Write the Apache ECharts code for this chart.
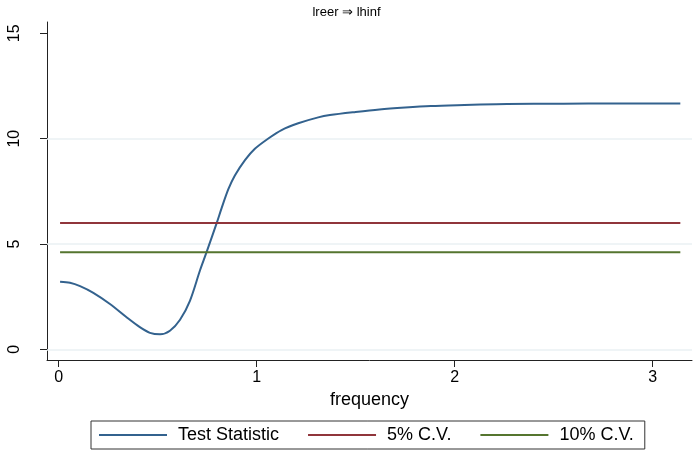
<!DOCTYPE html>
<html>
<head>
<meta charset="utf-8">
<script src="https://cdn.jsdelivr.net/npm/echarts@6/dist/echarts.min.js"></script>
<style>html,body{margin:0;padding:0;background:#fff}#c{width:693px;height:453px}</style>
</head>
<body>
<div id="c"></div>
<script>
var titleText = 'lreer \u21D2 lhinf';
var freq = [0.007, 0.057, 0.108, 0.175, 0.259, 0.343, 0.41, 0.461, 0.512, 0.562, 0.613, 0.663, 0.714, 0.747, 0.798, 0.823, 0.857, 0.890, 0.941, 0.991, 1.059, 1.126, 1.21, 1.311, 1.37, 1.50, 1.62, 1.75, 1.88, 2.05, 2.21, 2.40, 2.55, 2.80, 3.14];
var testStat = [3.21, 3.16, 3.00, 2.68, 2.15, 1.52, 1.05, 0.78, 0.71, 0.88, 1.40, 2.30, 3.75, 4.61, 5.99, 6.70, 7.60, 8.25, 8.98, 9.52, 10.01, 10.41, 10.73, 11.01, 11.12, 11.27, 11.39, 11.48, 11.55, 11.60, 11.64, 11.66, 11.66, 11.67, 11.67];
var cvFreq = [0.007, 3.14];
var cv5 = [5.99, 5.99];
var cv10 = [4.61, 4.61];
var xTicks = [0, 1, 2, 3];
var yTicks = [0, 5, 10, 15];
var yGrid = [0, 5, 10];
var seriesNames = ['Test Statistic', '5% C.V.', '10% C.V.'];

function pairs(xs, ys) { return xs.map(function (x, i) { return [x, ys[i]]; }); }

var font = 'Liberation Sans, Arial, sans-serif';
var chart = echarts.init(document.getElementById('c'));
chart.setOption({
  animation: false,
  backgroundColor: '#ffffff',
  title: {
    text: titleText, left: 'center', top: 1,
    textStyle: { fontFamily: font, fontSize: 13, fontWeight: 'normal', color: '#000' }
  },
  grid: { left: 47, right: 1, top: 22, bottom: 93, containLabel: false },
  xAxis: {
    type: 'value', min: -0.059, max: 3.199,
    name: 'frequency', nameLocation: 'middle', nameGap: 28,
    nameTextStyle: { fontFamily: font, fontSize: 18, color: '#000' },
    axisLine: { show: true, onZero: false, lineStyle: { color: '#222', width: 1 } },
    axisTick: { show: true, length: 7, lineStyle: { color: '#222' }, customValues: xTicks },
    axisLabel: { customValues: xTicks, margin: 10, fontFamily: font, fontSize: 16, color: '#000' },
    splitLine: { show: false }
  },
  yAxis: {
    type: 'value', min: -0.51, max: 15.54,
    axisLine: { show: true, onZero: false, lineStyle: { color: '#222', width: 1 } },
    axisTick: { show: true, length: 7, lineStyle: { color: '#222' }, customValues: yTicks },
    axisLabel: { customValues: yTicks, rotate: 90, margin: 24, fontFamily: font, fontSize: 16, color: '#000' },
    splitLine: { show: false }
  },
  legend: {
    data: seriesNames, left: 91, top: 421,
    padding: [5, 11, 5, 8], itemGap: 29,
    itemWidth: 68, itemHeight: 2, icon: 'rect',
    borderColor: '#333', borderWidth: 1,
    textStyle: { fontFamily: font, fontSize: 18, color: '#000', padding: [0, 0, 0, 6] }
  },
  series: [
    { name: 'grid', type: 'line', data: [], z: 1, silent: true,
      markLine: { z: 1, silent: true, symbol: 'none', label: { show: false },
        lineStyle: { color: '#eaf1f3', width: 1.5, type: 'solid' },
        data: yGrid.map(function (v) { return { yAxis: v }; }) } },
    { name: seriesNames[0], type: 'line', z: 3, data: pairs(freq, testStat), smooth: 0.3, symbol: 'none',
      lineStyle: { color: '#33628e', width: 2 }, itemStyle: { color: '#33628e' } },
    { name: seriesNames[1], type: 'line', z: 3, data: pairs(cvFreq, cv5), symbol: 'none',
      lineStyle: { color: '#90353b', width: 2 }, itemStyle: { color: '#90353b' } },
    { name: seriesNames[2], type: 'line', z: 3, data: pairs(cvFreq, cv10), symbol: 'none',
      lineStyle: { color: '#55752f', width: 2 }, itemStyle: { color: '#55752f' } }
  ]
});
</script>
</body>
</html>
